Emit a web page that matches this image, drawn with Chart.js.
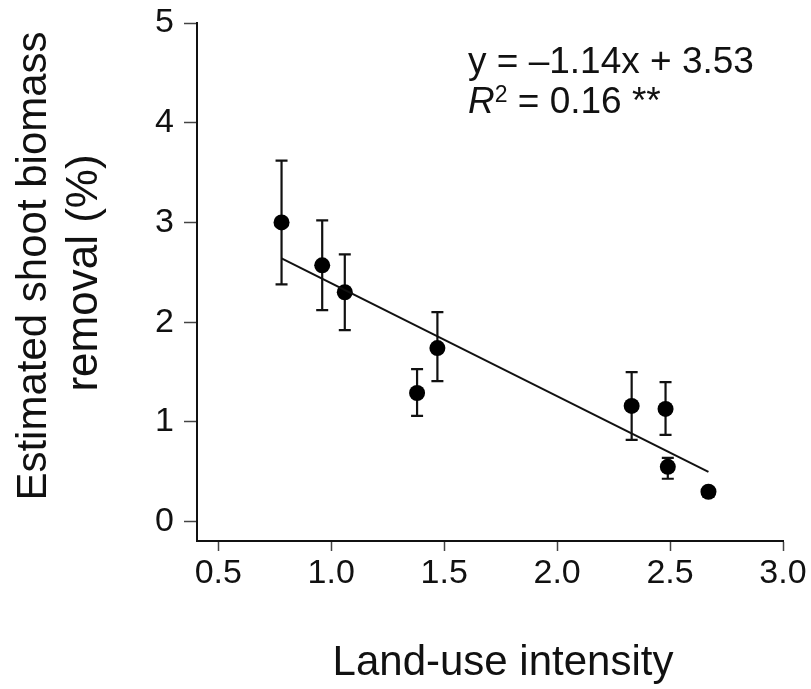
<!DOCTYPE html>
<html>
<head>
<meta charset="utf-8">
<script src="https://cdn.jsdelivr.net/npm/chart.js@4.4.1/dist/chart.umd.min.js"></script>
<style>
  html, body { margin: 0; padding: 0; background: #fff; }
  #wrap { width: 811px; height: 689px; }
</style>
</head>
<body>
<div id="wrap"><canvas id="chart"></canvas></div>
<script>
// land-use intensity vs estimated shoot biomass removal
const intensity = [0.78, 0.96, 1.06, 1.38, 1.47, 2.33, 2.48, 2.49, 2.67];
const removal = [3.00, 2.57, 2.30, 1.29, 1.74, 1.16, 1.13, 0.55, 0.30];
const errLow = [2.38, 2.12, 1.92, 1.06, 1.41, 0.82, 0.87, 0.43, 0.25];
const errHigh = [3.62, 3.02, 2.68, 1.53, 2.10, 1.50, 1.40, 0.64, 0.34];

// fitted line end points
const fitX = [0.78, 2.67];
const fitY = [2.64, 0.50];

const xTicks = [0.5, 1.0, 1.5, 2.0, 2.5, 3.0];
const yTicks = [0, 1, 2, 3, 4, 5];

const FONT = "'Liberation Sans', Arial, sans-serif";
const INK = '#111';

const errorBars = {
    id: 'errorBars',
    beforeDatasetsDraw(chart) {
        const { ctx, scales: { x, y } } = chart;
        ctx.save();
        ctx.strokeStyle = INK;
        ctx.lineWidth = 2.2;
        intensity.forEach((v, i) => {
            const px = x.getPixelForValue(v);
            const top = y.getPixelForValue(errHigh[i]);
            const bot = y.getPixelForValue(errLow[i]);
            ctx.beginPath();
            ctx.moveTo(px, top);
            ctx.lineTo(px, bot);
            ctx.moveTo(px - 6, top);
            ctx.lineTo(px + 6, top);
            ctx.moveTo(px - 6, bot);
            ctx.lineTo(px + 6, bot);
            ctx.stroke();
        });
        ctx.restore();
    },
};

const texts = {
    id: 'texts',
    afterDraw(chart) {
        const { ctx } = chart;
        ctx.save();
        ctx.fillStyle = INK;

        // axis titles
        ctx.font = `42px ${FONT}`;
        ctx.textAlign = 'center';
        ctx.textBaseline = 'alphabetic';
        ctx.fillText('Land-use intensity', 503, 675);

        ctx.save();
        ctx.translate(46, 266);
        ctx.rotate(-Math.PI / 2);
        ctx.fillText('Estimated shoot biomass', 0, 0);
        ctx.restore();
        ctx.save();
        ctx.font = `44px ${FONT}`;
        ctx.translate(97, 273);
        ctx.rotate(-Math.PI / 2);
        ctx.fillText('removal (%)', 0, 0);
        ctx.restore();

        // regression annotation
        ctx.textAlign = 'left';
        ctx.font = `37px ${FONT}`;
        ctx.fillText('y = \u20131.14x + 3.53', 468, 73);
        let cx = 468;
        ctx.font = `italic 37px ${FONT}`;
        ctx.fillText('R', cx, 113);
        cx += ctx.measureText('R').width;
        ctx.font = `23px ${FONT}`;
        ctx.fillText('2', cx, 102);
        cx += ctx.measureText('2').width;
        ctx.font = `37px ${FONT}`;
        ctx.fillText(' = 0.16 **', cx, 113);
        ctx.restore();
    },
};

new Chart(document.getElementById('chart'), {
    type: 'scatter',
    data: {
        datasets: [
            {
                type: 'line',
                data: fitX.map((v, i) => ({ x: v, y: fitY[i] })),
                borderColor: INK,
                borderWidth: 2,
                pointRadius: 0,
                fill: false,
            },
            {
                data: intensity.map((v, i) => ({ x: v, y: removal[i] })),
                backgroundColor: '#000',
                borderWidth: 0,
                pointRadius: 8,
            },
        ],
    },
    options: {
        responsive: true,
        maintainAspectRatio: false,
        animation: false,
        layout: { padding: { left: 0, right: 28, top: 23, bottom: 0 } },
        scales: {
            x: {
                type: 'linear',
                min: 0.4057,
                max: 3.0,
                afterBuildTicks: (scale) => { scale.ticks = xTicks.map(v => ({ value: v })); },
                afterFit: (scale) => {
                    scale.height = 148;
                    scale.paddingLeft = 0;
                    scale.paddingRight = 0;
                },
                border: { display: true, color: INK, width: 2 },
                grid: { drawOnChartArea: false, drawTicks: true, tickLength: 10, tickColor: '#444', tickWidth: 1.5 },
                ticks: {
                    color: INK,
                    padding: 2,
                    font: { family: FONT, size: 34 },
                    callback: (v) => v.toFixed(1),
                },
            },
            y: {
                min: -0.194,
                max: 5,
                afterBuildTicks: (scale) => { scale.ticks = yTicks.map(v => ({ value: v })); },
                afterFit: (scale) => {
                    scale.width = 197;
                    scale.paddingTop = 0;
                    scale.paddingBottom = 0;
                },
                border: { display: true, color: INK, width: 2 },
                grid: { drawOnChartArea: false, drawTicks: true, tickLength: 13, tickColor: '#444', tickWidth: 1.5 },
                ticks: {
                    color: INK,
                    padding: 10,
                    font: { family: FONT, size: 34 },
                    callback: (v) => String(v),
                },
            },
        },
        plugins: {
            legend: { display: false },
            tooltip: { enabled: false },
        },
    },
    plugins: [errorBars, texts],
});
</script>
</body>
</html>
